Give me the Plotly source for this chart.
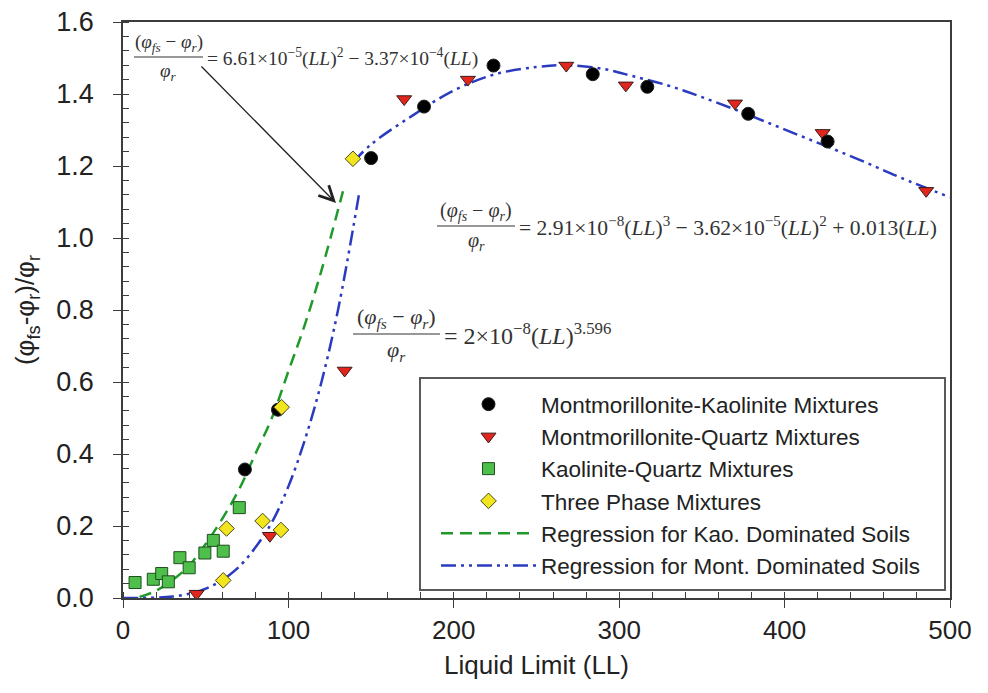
import plotly.graph_objects as go

# ---------------- data ----------------
mk_x = [73.7, 93.7, 150, 182, 224, 284, 317, 378, 426]
mk_y = [0.357, 0.523, 1.222, 1.365, 1.479, 1.455, 1.420, 1.345, 1.268]

mq_x = [44.5, 88.8, 134, 170, 208.5, 268, 304, 370, 423, 485.6]
mq_y = [0.012, 0.173, 0.632, 1.386, 1.44, 1.479, 1.424, 1.374, 1.292, 1.131]

kq_x = [7.3, 18.3, 23.4, 27.4, 34.4, 40, 49.5, 54.6, 60.6, 70.3]
kq_y = [0.043, 0.052, 0.068, 0.045, 0.112, 0.084, 0.125, 0.16, 0.13, 0.251]

tp_x = [60.6, 62.6, 84.4, 95.5, 95.9, 139]
tp_y = [0.049, 0.193, 0.214, 0.189, 0.53, 1.22]

kao_x = [10, 20, 30, 40, 50, 60, 70, 80, 90, 100, 110, 120, 133]
kao_y = [0.003, 0.02, 0.05, 0.09, 0.15, 0.22, 0.30, 0.40, 0.50, 0.63, 0.76, 0.91, 1.13]

mont_lo_x = [0, 20, 30, 40, 50, 60, 70, 80, 90, 100, 110, 120, 130, 143]
mont_lo_y = [0.0, 0.001, 0.004, 0.012, 0.026, 0.05, 0.086, 0.14, 0.21, 0.31, 0.44, 0.60, 0.80, 1.13]
mont_hi_x = [139, 150, 175, 200, 225, 250, 268, 290, 308, 330, 349, 370, 389, 410, 429, 450, 470, 500]
mont_hi_y = [1.21, 1.26, 1.34, 1.41, 1.455, 1.475, 1.48, 1.47, 1.45, 1.423, 1.393, 1.357, 1.322,
             1.283, 1.248, 1.208, 1.168, 1.113]

names = ["Montmorillonite-Kaolinite Mixtures", "Montmorillonite-Quartz Mixtures",
         "Kaolinite-Quartz Mixtures", "Three Phase Mixtures",
         "Regression for Kao. Dominated Soils", "Regression for Mont. Dominated Soils"]

SANS = "Liberation Sans, Arial, sans-serif"
SERIF = "Liberation Serif, Times New Roman, serif"
AX = "#3c3c3c"

# page body has an 8px margin: plot area lands at x 123-950, y 22-598 on screen
OFF = 8
W, H = 980, 685
TOP, BOT, LEFT, RIGHT = 22, 598, 123, 950
L, T = LEFT - OFF, TOP - OFF
R = W - (RIGHT - OFF)
B = H - (BOT - OFF)
PW, PH = RIGHT - LEFT, BOT - TOP

fig = go.Figure()

# regression lines (drawn first, under markers)
fig.add_trace(go.Scatter(x=kao_x, y=kao_y, mode="lines", name=names[4], legendrank=5,
                         line=dict(color="#1f9a2a", width=2.5, dash="12px,7px"), line_shape="spline"))
fig.add_trace(go.Scatter(x=mont_lo_x + [None] + mont_hi_x, y=mont_lo_y + [None] + mont_hi_y,
                         mode="lines", name=names[5], legendrank=6, connectgaps=False,
                         line=dict(color="#2b3bc0", width=2.5, dash="15px,5px,3px,5px,3px,5px"),
                         line_shape="spline"))

fig.add_trace(go.Scatter(x=kq_x, y=kq_y, mode="markers", name=names[2], legendrank=3,
                         marker=dict(symbol="square", size=12, color="#4dbf4a",
                                     line=dict(color="#1e4f1e", width=1))))
fig.add_trace(go.Scatter(x=mq_x, y=mq_y, mode="markers", name=names[1], legendrank=2,
                         marker=dict(symbol="triangle-down", size=13, color="#e3261d",
                                     line=dict(color="#3a1a1a", width=1))))
fig.add_trace(go.Scatter(x=mk_x, y=mk_y, mode="markers", name=names[0], legendrank=1,
                         marker=dict(symbol="circle", size=13, color="#000000",
                                     line=dict(color="#222222", width=1))))
fig.add_trace(go.Scatter(x=tp_x, y=tp_y, mode="markers", name=names[3], legendrank=4,
                         marker=dict(symbol="diamond", size=12, color="#f2e41f",
                                     line=dict(color="#4a4a1a", width=1))))

# ---------------- equations ----------------
def px2x(px):
    return (px - LEFT) / PW * 500

def py2y(py):
    return (BOT - py) / PH * 1.6

NUM = "(<i>φ</i><sub><i>fs</i></sub> − <i>φ</i><sub><i>r</i></sub>)"
DEN = "<i>φ</i><sub><i>r</i></sub>"

eqs = [
    # (bar left px, bar right px, bar py, font size, rhs text, rhs size)
    (134, 203, 57, 19, "= 6.61×10<sup>−5</sup>(<i>LL</i>)<sup>2</sup> − 3.37×10<sup>−4</sup>(<i>LL</i>)", 19.5),
    (437, 515, 226, 20, "= 2.91×10<sup>−8</sup>(<i>LL</i>)<sup>3</sup> − 3.62×10<sup>−5</sup>(<i>LL</i>)<sup>2</sup> + 0.013(<i>LL</i>)", 21.6),
    (353, 440, 334, 22, "= 2×10<sup>−8</sup>(<i>LL</i>)<sup>3.596</sup>", 24),
]
shapes = []
annotations = []
for (l, r, yb, fs, rhs, rfs) in eqs:
    cx = (l + r) / 2
    shapes.append(dict(type="line", xref="x", yref="y", x0=px2x(l), x1=px2x(r),
                       y0=py2y(yb), y1=py2y(yb), line=dict(color="#333333", width=1.2)))
    annotations.append(dict(x=px2x(cx), y=py2y(yb), xref="x", yref="y", text=NUM, showarrow=False,
                            yanchor="bottom", xanchor="center",
                            font=dict(family=SERIF, size=fs, color="#333333")))
    annotations.append(dict(x=px2x(cx), y=py2y(yb), xref="x", yref="y", text=DEN, showarrow=False,
                            yanchor="top", xanchor="center", yshift=-1,
                            font=dict(family=SERIF, size=fs, color="#333333")))
    annotations.append(dict(x=px2x(r + 2), y=py2y(yb), xref="x", yref="y", text=rhs, showarrow=False,
                            yanchor="middle", xanchor="left",
                            font=dict(family=SERIF, size=rfs, color="#333333")))

# arrow
annotations.append(dict(x=px2x(336), y=py2y(203), ax=px2x(200), ay=py2y(65),
                        xref="x", yref="y", axref="x", ayref="y", text="", showarrow=True,
                        arrowhead=5, arrowsize=2.2, arrowwidth=1.3, arrowcolor="#222222"))

# legend frame
shapes.append(dict(type="rect", xref="paper", yref="paper",
                   x0=(420 - LEFT) / PW, x1=(945 - LEFT) / PW,
                   y0=(BOT - 590) / PH, y1=(BOT - 378) / PH,
                   line=dict(color="#5a5a5a", width=2), fillcolor="white", layer="below"))

fig.update_layout(
    width=W, height=H, autosize=False,
    margin=dict(l=L, r=R, t=T, b=B, autoexpand=False),
    plot_bgcolor="white", paper_bgcolor="white",
    font=dict(family=SANS, color="#222222"),
    showlegend=True,
    legend=dict(x=(436 - LEFT) / PW, y=(BOT - 383) / PH, xanchor="left", yanchor="top",
                bgcolor="rgba(0,0,0,0)", borderwidth=0, itemwidth=95,
                font=dict(family=SANS, size=22.5, color="#222222"), tracegroupgap=0),
    shapes=shapes,
    annotations=annotations,
)

fig.update_xaxes(range=[0, 500], dtick=100, tick0=0, showgrid=False, zeroline=False, automargin=False,
                 showline=True, mirror=True, linecolor=AX, linewidth=1.5, ticklabeloverflow="allow",
                 ticks="outside", ticklen=8, tickwidth=1.3, tickcolor=AX,
                 minor=dict(dtick=20, ticks="inside", ticklen=6, tickwidth=1.1, tickcolor=AX, showgrid=False),
                 tickfont=dict(family=SANS, size=26, color="#222222"),
                 title=dict(text="Liquid Limit (LL)", font=dict(family=SANS, size=26, color="#222222"),
                            standoff=12))
fig.update_yaxes(range=[0, 1.6], dtick=0.2, tick0=0, tickformat=".1f", showgrid=False, zeroline=False,
                 automargin=False, ticklabeloverflow="allow",
                 showline=True, mirror=True, linecolor=AX, linewidth=1.5,
                 ticks="outside", ticklen=8, tickwidth=1.3, tickcolor=AX, ticklabelstandoff=14,
                 minor=dict(dtick=0.04, ticks="inside", ticklen=6, tickwidth=1.1, tickcolor=AX, showgrid=False),
                 tickfont=dict(family=SANS, size=27, color="#222222"),
                 title=dict(text="(φ<sub>fs</sub>-φ<sub>r</sub>)/φ<sub>r</sub>",
                            font=dict(family=SANS, size=26, color="#222222"), standoff=14))

fig.write_html("out.html")
